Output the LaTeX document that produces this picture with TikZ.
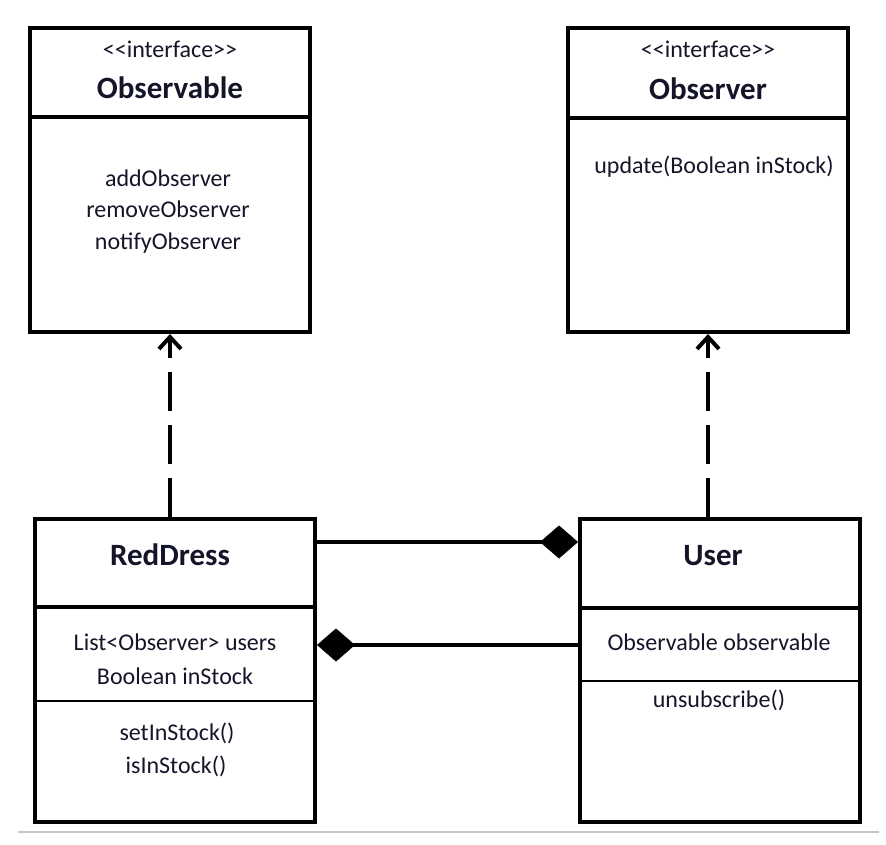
\documentclass[tikz,border=0pt]{standalone}
\usepackage{fontspec}
\setmainfont{Carlito}
\usetikzlibrary{arrows.meta}
\definecolor{txtc}{HTML}{15152A}
\definecolor{rulegray}{RGB}{195,200,205}
\begin{document}
\begin{tikzpicture}[x=1pt,y=-1pt,
 box/.style={draw, line width=4pt, rectangle, minimum width=280pt, inner sep=0pt},
 txt/.style={font=\fontsize{24}{28}\selectfont, inner sep=0pt, anchor=base, text=txtc},
 ttl/.style={font=\fontsize{31}{36}\selectfont\bfseries, inner sep=0pt, anchor=base, text=txtc},
 dep/.style={line width=4pt, dash pattern=on 39pt off 14pt, -{Straight Barb[length=12pt,width=22pt,line width=4pt]}},
 comp/.style={line width=3.5pt, -{Diamond[length=38pt,width=33pt,line width=0.5pt]}},
 thickdiv/.style={line width=4pt},
 thindiv/.style={line width=1.2pt},
]
\useasboundingbox (0,0) rectangle (886,844);

% boxes
\node[box, minimum height=304pt] (obs) at (170,180) {};
\node[box, minimum height=304pt] (obr) at (708,180) {};
\node[box, minimum height=303pt] (red) at (175,670.5) {};
\node[box, minimum height=303pt] (usr) at (720,670.5) {};

% dividers
\draw[thickdiv] (obs.west |- 0,117) -- (obs.east |- 0,117);
\draw[thickdiv] (obr.west |- 0,118) -- (obr.east |- 0,118);
\draw[thickdiv] (red.west |- 0,607) -- (red.east |- 0,607);
\draw[thindiv] (red.west |- 0,701) -- (red.east |- 0,701);
\draw[thickdiv] (usr.west |- 0,608) -- (usr.east |- 0,608);
\draw[thindiv] (usr.west |- 0,681) -- (usr.east |- 0,681);

% Observable texts
\node[txt] (obsst) at (170,57) {{<}{<}interface{>}{>}};
\node[ttl] (obst) at (170,98) {Observable};
\node[txt] (obs1) at (168,186) {addObserver};
\node[txt] (obs2) at (168,217.5) {removeObserver};
\node[txt] (obs3) at (168,249) {notifyObserver};

% Observer texts
\node[txt] (obrst) at (708,57) {{<}{<}interface{>}{>}};
\node[ttl] (obrt) at (708,99) {Observer};
\node[txt] (obr1) at (714,173) {update(Boolean inStock)};

% RedDress texts
\node[ttl] (redt) at (170,565) {RedDress};
\node[txt] (red1) at (175,650) {List{<}Observer{>} users};
\node[txt] (red2) at (175,684) {Boolean inStock};
\node[txt] (red3) at (177,740) {setInStock()};
\node[txt] (red4) at (176,773) {isInStock()};

% User texts
\node[ttl] (usrt) at (713,565) {User};
\node[txt] (usr1) at (719,650) {Observable observable};
\node[txt] (usr2) at (719,707) {unsubscribe()};

% realization arrows
\draw[dep] (obs.south |- red.north) -- (obs.south);
\draw[dep] (obr.south |- usr.north) -- (obr.south);

% compositions
\draw[comp] ([yshift=-25pt]red.north east) -- ([yshift=-25pt]usr.north west);
\draw[comp] ([yshift=-128pt]usr.north west) -- ([yshift=-128pt]red.north east);

% bottom rule
\draw[line width=1.5pt, rulegray] (18,832) -- (879,832);
\end{tikzpicture}
\end{document}
